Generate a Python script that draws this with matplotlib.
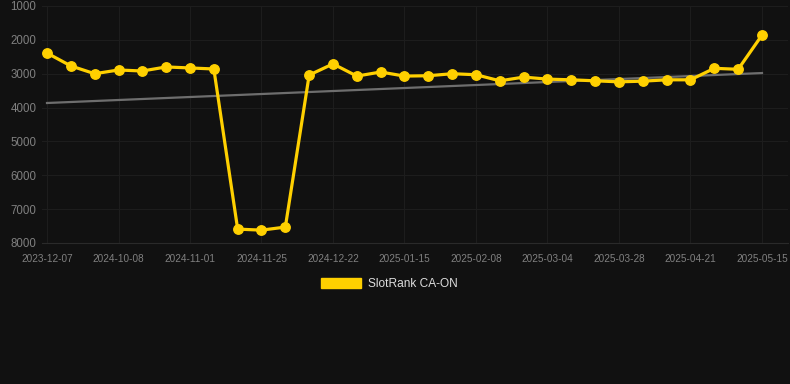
import matplotlib
matplotlib.use("Agg")
import matplotlib.pyplot as plt
import numpy as np
from matplotlib.patches import Patch

plt.rcParams['font.family'] = ['Liberation Sans', 'DejaVu Sans']

dates = ["2023-12-07", "", "", "2024-10-08", "", "", "2024-11-01", "", "", "2024-11-25", "", "",
         "2024-12-22", "", "", "2025-01-15", "", "", "2025-02-08", "", "", "2025-03-04", "", "",
         "2025-03-28", "", "", "2025-04-21", "", "", "2025-05-15"]
ranks = [2390, 2770, 3000, 2890, 2920, 2800, 2830, 2860, 7590, 7620, 7530, 3040, 2710, 3070,
         2950, 3070, 3060, 3000, 3030, 3210, 3100, 3160, 3180, 3210, 3240, 3220, 3180, 3180,
         2840, 2870, 1860]
trend_ends = [3865, 2980]
y_ticks = [1000, 2000, 3000, 4000, 5000, 6000, 7000, 8000]
series_name = "SlotRank CA-ON"

BG = "#111111"
GOLD = "#FFD000"

fig = plt.figure(figsize=(7.9, 3.84), dpi=100, facecolor=BG)
W, H = 790, 384
ax = fig.add_axes([42 / W, 1 - 243 / H, (788 - 42) / W, (243 - 6) / H])
ax.set_facecolor(BG)

x = np.arange(len(ranks))
ax.plot([x[0], x[-1]], trend_ends, color="#6e6e6e", lw=1.6, zorder=2)
ax.plot(x, ranks, color=GOLD, lw=2.3, marker="o", ms=6.8, zorder=3, label=series_name)

ax.set_ylim(8000, 1000)
step = 23.83
ax.set_xlim(-5 / step, 30 + 26 / step)
ax.set_yticks(y_ticks)
ax.set_yticklabels([str(v) for v in y_ticks])
tick_idx = [i for i, d in enumerate(dates) if d]
ax.set_xticks(tick_idx)
ax.set_xticklabels([dates[i] for i in tick_idx])

ax.grid(True, color="#1d1d1d", lw=0.8)
ax.set_axisbelow(True)
for s in ["top", "right", "left"]:
    ax.spines[s].set_visible(False)
ax.spines["bottom"].set_color("#2a2a2a")
ax.tick_params(axis="y", length=0, pad=4, labelsize=8.3, labelcolor="#808080")
ax.tick_params(axis="x", length=0, pad=8, labelsize=7.2, labelcolor="#808080")

handle = Patch(facecolor=GOLD, edgecolor=GOLD)
fig.legend([handle], [series_name], loc="center", bbox_to_anchor=(389 / W, 1 - 284 / H),
           frameon=False, fontsize=8.6, labelcolor="#dddddd", handlelength=3.4,
           handleheight=1.0, handletextpad=0.55)

fig.savefig("out.png", dpi=100, facecolor=BG)
